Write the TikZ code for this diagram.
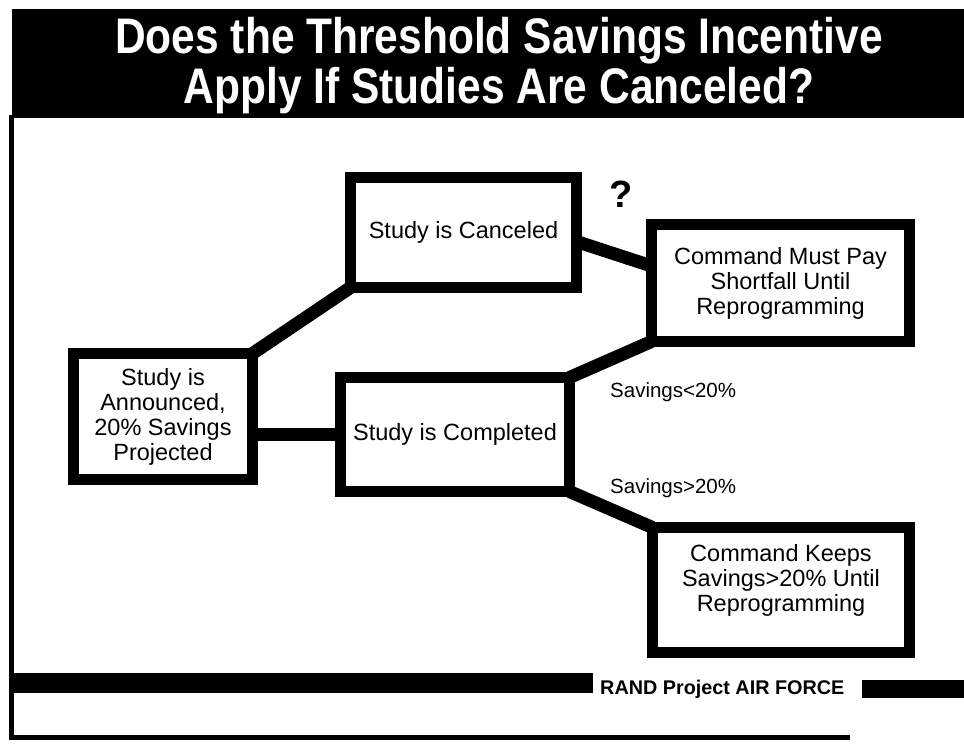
\documentclass[tikz,border=0pt]{standalone}
\usepackage{fontspec}
\setmainfont{Liberation Sans}
\newfontfamily\titlefont[FakeStretch=0.85]{Liberation Sans}
\begin{document}
\begin{tikzpicture}[x=1pt,y=-1pt,
  box/.style={draw=black,line width=11pt,fill=white,align=center,inner sep=0pt,outer sep=0pt,
    font=\fontsize{23.5}{25}\selectfont},
  conn/.style={line width=13pt,line cap=butt},
  lbl/.style={anchor=west,inner sep=0pt,font=\fontsize{20.5}{23}\selectfont},
  rule/.style={line width=5pt}]
\useasboundingbox (0,0) rectangle (964,744);
\fill[white] (0,0) rectangle (964,744);
% title bar and frame
\fill[black] (12,9) rectangle (964,118);
\node[anchor=base,align=center,text=white,inner sep=0pt,
  font=\titlefont\fontsize{50}{50}\bfseries\selectfont] (title) at (499,103)
  {Does the Threshold Savings Incentive\\Apply If Studies Are Canceled?};
\draw[rule] (11,115) -- (11,737.5) -- (850,737.5);
% footer
\fill[black] (12,673) rectangle (593,693);
\fill[black] (862,680) rectangle (964,698);
\node[anchor=base west,inner sep=0pt,font=\fontsize{19.8}{22}\bfseries\selectfont] (rand) at (600,694) {RAND Project AIR FORCE};
% boxes
\coordinate (annc) at (163,416.5);
\coordinate (canc) at (463.5,232.5);
\coordinate (compc) at (455,434.5);
\coordinate (mustc) at (780.5,283);
\coordinate (keepc) at (781,590);
\node[box,minimum width=179pt,minimum height=126pt] (ann) at (annc) {Study is\\Announced,\\20\% Savings\\Projected};
\node[box,minimum width=226pt,minimum height=110pt] (can) at (canc) {Study is Canceled};
\node[box,minimum width=229pt,minimum height=114pt] (comp) at (compc) {Study is Completed};
\node[box,minimum width=258pt,minimum height=117pt] (must) at (mustc) {Command Must Pay\\Shortfall Until\\Reprogramming};
\node[box,minimum width=257pt,minimum height=125pt] (keep) at (keepc) {Command Keeps\\Savings>20\% Until\\Reprogramming\\[0pt]};
% connectors
\draw[conn] (ann.north east) -- (can.south west);
\draw[conn] (ann.east |- comp.west) -- (comp.west);
\draw[conn] ([yshift=-9pt]can.east) -- ([yshift=17pt]must.west);
\draw[conn] (comp.north east) -- (must.south west);
\draw[conn] (comp.south east) -- (keep.north west);
% labels
\node[anchor=center,inner sep=0pt,font=\fontsize{38}{40}\bfseries\selectfont] (q) at (621,194) {?};
\node[lbl] (lt) at (610,392) {Savings<20\%};
\node[lbl] (gt) at (610,488) {Savings>20\%};
\end{tikzpicture}
\end{document}
